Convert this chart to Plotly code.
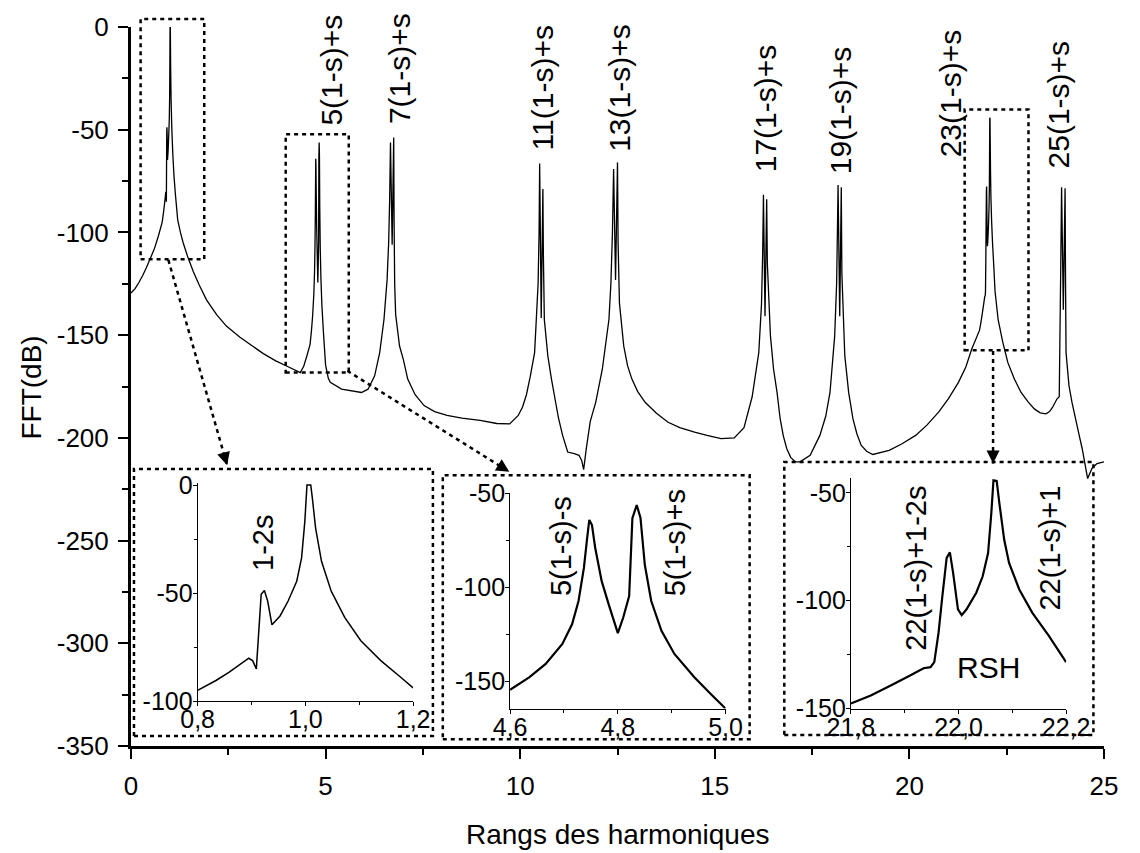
import plotly.graph_objects as go

# ---------------- spectrum data (harmonic rank, dB) ----------------
# low-frequency tail before the fundamental
seg_a_x = [0.00, 0.10, 0.20, 0.30, 0.40, 0.50, 0.60, 0.70]
seg_a_y = [-129.5, -127.5, -124.5, -121.0, -117.0, -112.5, -108.0, -102.0]

# fundamental with the 1-2s sideband
fund_x = [0.800, 0.834, 0.858, 0.895, 0.902, 0.909, 0.918, 0.924, 0.930, 0.938, 0.953, 0.968, 0.984,
          0.993, 0.999, 1.003, 1.010, 1.013, 1.019, 1.030, 1.048, 1.073, 1.103, 1.140, 1.177, 1.200]
fund_y = [-95.1, -90.5, -86.7, -80.2, -81.3, -85.1, -50.6, -48.8, -53.7, -64.7, -60.6, -53.7, -44.5,
          -33.7, -16.9, 0.0, 0.0, -6.1, -19.9, -35.3, -49.1, -61.3, -72.1, -81.3, -89.0, -93.9]

seg_b_x = [1.27, 1.34, 1.45, 1.60, 1.75, 1.94, 2.20, 2.45, 2.80, 3.12, 3.40, 3.72, 4.05, 4.35, 4.44, 4.52]
seg_b_y = [-100.0, -105.0, -111.5, -119.0, -125.5, -132.8, -140.0, -145.6, -151.0, -155.3, -159.0,
           -162.5, -165.5, -168.2, -165.0, -160.0]

# 5th harmonic pair 5(1-s)-s / 5(1-s)+s
h5_x = [4.600, 4.636, 4.666, 4.697, 4.715, 4.727, 4.737, 4.743, 4.747, 4.752, 4.758, 4.770, 4.783,
        4.800, 4.810, 4.821, 4.827, 4.835, 4.842, 4.850, 4.862, 4.881, 4.905, 4.942, 4.972, 5.000]
h5_y = [-154.6, -147.9, -140.8, -130.2, -119.7, -107.3, -89.7, -73.8, -64.1, -66.8, -79.1, -96.7, -109.1,
        -124.4, -116.1, -104.7, -63.2, -56.2, -62.9, -87.9, -107.3, -123.2, -135.5, -147.9, -156.7, -164.6]

seg_c_x = [5.07, 5.12, 5.41, 5.92, 6.09, 6.26, 6.39, 6.50, 6.58, 6.62, 6.645, 6.667, 6.71, 6.75, 6.76,
           6.775, 6.80, 6.90, 7.00, 7.11, 7.30, 7.53, 7.80, 8.12, 8.50, 8.97, 9.40, 9.73, 9.95, 10.06,
           10.16, 10.26, 10.37, 10.42, 10.46, 10.485, 10.50, 10.54, 10.583, 10.595, 10.62, 10.71, 10.80,
           10.88, 10.98, 11.09, 11.22, 11.39, 11.51, 11.58, 11.63, 11.70, 11.80, 11.94, 12.11, 12.28,
           12.33, 12.37, 12.40, 12.45, 12.50, 12.515, 12.55, 12.66, 12.76, 12.87, 13.02, 13.21, 13.50,
           13.80, 14.10, 14.48, 14.80, 15.16, 15.50, 15.75, 15.96, 16.13, 16.20, 16.23, 16.25, 16.29,
           16.333, 16.35, 16.43, 16.51, 16.60, 16.68, 16.76, 16.85, 16.95, 17.07, 17.19, 17.45, 17.70,
           17.85, 17.96, 18.08, 18.13, 18.15, 18.167, 18.21, 18.25, 18.265, 18.34, 18.44, 18.55, 18.65,
           18.76, 18.90, 19.06, 19.48, 19.80, 20.16, 20.45, 20.75, 21.00, 21.26, 21.45, 21.60]
seg_c_y = [-171.0, -173.0, -176.3, -177.9, -176.3, -169.8, -158.5, -142.4, -123.1, -105.0, -85.0, -56.2,
           -106.0, -53.8, -95.0, -125.0, -140.0, -155.3, -162.0, -171.4, -179.0, -184.3, -187.2, -189.1,
           -190.4, -191.5, -193.0, -193.2, -189.1, -185.0, -179.0, -170.0, -158.5, -140.0, -125.0, -100.0,
           -66.4, -141.6, -78.8, -110.0, -142.4, -160.1, -171.0, -179.5, -190.0, -198.8, -206.9, -207.7,
           -208.5, -211.0, -215.5, -205.0, -192.0, -182.7, -166.6, -142.4, -125.0, -100.0, -69.1, -123.1,
           -65.9, -105.0, -134.4, -155.3, -165.0, -171.4, -177.5, -182.7, -188.0, -192.4, -195.0, -197.2,
           -198.8, -200.4, -200.0, -195.0, -180.0, -158.5, -135.0, -110.0, -81.7, -140.8, -83.9, -115.0,
           -150.5, -166.6, -178.0, -190.8, -199.0, -205.3, -209.5, -211.7, -211.7, -208.5, -198.8, -189.5,
           -177.9, -150.5, -125.0, -100.0, -76.9, -140.8, -78.0, -120.0, -160.0, -178.0, -190.8, -198.0,
           -203.6, -206.5, -208.1, -206.1, -203.0, -198.8, -193.8, -187.5, -181.0, -173.0, -165.5, -156.9]

# rotor slot harmonic region 22(1-s)+1-2s / 22(1-s)+1
rsh_x = [21.800, 21.837, 21.874, 21.910, 21.935, 21.948, 21.955, 21.963, 21.970, 21.978, 21.984, 21.990,
         21.999, 22.006, 22.015, 22.033, 22.045, 22.055, 22.061, 22.065, 22.071, 22.076, 22.085, 22.094,
         22.113, 22.137, 22.168, 22.200]
rsh_y = [-147.7, -143.9, -139.3, -134.7, -131.3, -130.8, -128.5, -114.7, -97.9, -80.2, -77.6, -87.1,
         -104.0, -106.7, -104.0, -96.3, -88.7, -77.9, -59.5, -44.2, -44.5, -54.9, -71.8, -82.5,
         -94.8, -105.5, -116.3, -128.5]

seg_d_x = [22.28, 22.40, 22.53, 22.70, 22.87, 23.05, 23.21, 23.36, 23.51, 23.60, 23.68, 23.79, 23.85,
           23.865, 23.89, 23.91, 23.955, 24.0, 24.012, 24.025, 24.10, 24.18, 24.27, 24.36, 24.44, 24.58,
           24.69, 24.82, 25.0]
seg_d_y = [-142.4, -153.5, -163.4, -171.5, -177.9, -182.5, -185.9, -187.8, -188.3, -187.2, -185.1,
           -181.1, -180.0, -155.0, -115.0, -78.0, -137.6, -78.5, -125.0, -158.5, -174.6, -183.0, -190.8,
           -198.5, -205.3, -219.8, -214.9, -212.5, -211.7]

spec_x = seg_a_x + fund_x + seg_b_x + h5_x + seg_c_x + rsh_x + seg_d_x
spec_y = seg_a_y + fund_y + seg_b_y + h5_y + seg_c_y + rsh_y + seg_d_y

# peak labels on the main spectrum: text, x, y of the label foot
peak_labels = ["5(1-s)+s", "7(1-s)+s", "11(1-s)+s", "13(1-s)+s",
               "17(1-s)+s", "19(1-s)+s", "23(1-s)+s", "25(1-s)+s"]
peak_label_x = [5.16, 6.90, 10.58, 12.53, 16.30, 18.25, 21.05, 23.84]
peak_label_y = [-48.8, -48.2, -60.9, -61.9, -71.5, -72.5, -64.3, -69.9]

# axis ticks
main_xticks = [0, 5, 10, 15, 20, 25]
main_xminor = [2.5, 7.5, 12.5, 17.5, 22.5]
main_yticks = [0, -50, -100, -150, -200, -250, -300, -350]
main_yminor = [-25, -75, -125, -175, -225, -275, -325]
main_yticktext = ["0", "-50", "-100", "-150", "-200", "-250", "-300", "-350"]

in1_xticks = [0.8, 1.0, 1.2]
in1_xticktext = ["0,8", "1,0", "1,2"]
in1_yticks = [0, -50, -100]
in1_yticktext = ["0", "-50", "-100"]
in2_xticks = [4.6, 4.8, 5.0]
in2_xticktext = ["4,6", "4,8", "5,0"]
in2_yticks = [-50, -100, -150]
in2_yticktext = ["-50", "-100", "-150"]
in3_xticks = [21.8, 22.0, 22.2]
in3_xticktext = ["21,8", "22,0", "22,2"]
in3_yticks = [-50, -100, -150]
in3_yticktext = ["-50", "-100", "-150"]

# ---------------- layout geometry ----------------
W, H = 1140, 853
ML, MR, MT, MB = 131, 26, 22, 107
PL, PR, PT, PB = ML, W - MR, MT, H - MB
XR = [0, 25]
YR = [-350, 0]

FONT = "Liberation Sans, Arial, sans-serif"


def paper(x, y):
    return ((x - XR[0]) / (XR[1] - XR[0]), (y - YR[0]) / (YR[1] - YR[0]))


def pix(x, y):
    fx, fy = paper(x, y)
    return PL + fx * (PR - PL), PB - fy * (PB - PT)


fig = go.Figure()

fig.add_trace(go.Scatter(x=spec_x, y=spec_y, mode="lines",
                         line=dict(color="black", width=1.3, simplify=False),
                         xaxis="x", yaxis="y", showlegend=False, hoverinfo="skip"))
fig.add_trace(go.Scatter(x=fund_x, y=fund_y, mode="lines",
                         line=dict(color="black", width=1.5, simplify=False),
                         xaxis="x2", yaxis="y2", showlegend=False, hoverinfo="skip"))
fig.add_trace(go.Scatter(x=h5_x, y=h5_y, mode="lines",
                         line=dict(color="black", width=2.2, simplify=False),
                         xaxis="x3", yaxis="y3", showlegend=False, hoverinfo="skip"))
fig.add_trace(go.Scatter(x=rsh_x, y=rsh_y, mode="lines",
                         line=dict(color="black", width=2.2, simplify=False),
                         xaxis="x4", yaxis="y4", showlegend=False, hoverinfo="skip"))

main_common = dict(showline=True, linewidth=3, linecolor="#000000", ticks="outside", ticklen=10,
                   tickwidth=2, tickcolor="#000000", showgrid=False, zeroline=False,
                   tickfont=dict(family=FONT, size=26, color="black"))
fig.update_layout(
    xaxis=dict(range=XR, domain=[0, 1], tickvals=main_xticks, ticktext=[str(v) for v in main_xticks],
               anchor="y", ticklabelstandoff=5,
               minor=dict(tickvals=main_xminor, ticks="outside", ticklen=6, tickwidth=2, tickcolor="#000000"),
               **main_common),
    yaxis=dict(range=YR, domain=[0, 1], tickvals=main_yticks, ticktext=main_yticktext,
               anchor="x", ticklabelstandoff=4,
               minor=dict(tickvals=main_yminor, ticks="outside", ticklen=6, tickwidth=2, tickcolor="#000000"),
               **main_common),
)


def inset_axes(xdom, ydom, xr, yr, xt, xtt, yt, ytt, xminor, yminor):
    common = dict(showline=True, linewidth=1, linecolor="black", showgrid=False, zeroline=False,
                  ticks="outside", ticklen=4, tickwidth=1, tickcolor="black",
                  tickfont=dict(family=FONT, size=25, color="black"))
    xa = dict(domain=xdom, range=xr, tickvals=xt, ticktext=xtt, ticklabelstandoff=-8,
              minor=dict(tickvals=xminor, ticks="outside", ticklen=3, tickwidth=1, tickcolor="black"),
              **common)
    ya = dict(domain=ydom, range=yr, tickvals=yt, ticktext=ytt, ticklabelstandoff=-5,
              minor=dict(tickvals=yminor, ticks="outside", ticklen=3, tickwidth=1, tickcolor="black"),
              **common)
    return xa, ya


def dom_x(p0, p1):
    return [(p0 - PL) / (PR - PL), (p1 - PL) / (PR - PL)]


def dom_y(p_bottom, p_top):
    return [(PB - p_bottom) / (PB - PT), (PB - p_top) / (PB - PT)]


x2, y2 = inset_axes(dom_x(198.3, 416.0), dom_y(700.7, 481.1), [0.8, 1.2], [-100, 1],
                    in1_xticks, in1_xticktext, in1_yticks, in1_yticktext, [0.9, 1.1], [-25, -75])
x3, y3 = inset_axes(dom_x(514.0, 731.7), dom_y(708.3, 491.7), [4.6, 5.0], [-164.6, -50],
                    in2_xticks, in2_xticktext, in2_yticks, in2_yticktext, [4.7, 4.9], [-75, -125])
x4, y4 = inset_axes(dom_x(858.3, 1075.7), dom_y(708.3, 475.8), [21.8, 22.2], [-150, -43],
                    in3_xticks, in3_xticktext, in3_yticks, in3_yticktext, [21.9, 22.1], [-75, -125])
fig.update_layout(xaxis2=dict(anchor="y2", **x2), yaxis2=dict(anchor="x2", **y2),
                  xaxis3=dict(anchor="y3", **x3), yaxis3=dict(anchor="x3", **y3),
                  xaxis4=dict(anchor="y4", **x4), yaxis4=dict(anchor="x4", **y4))

shapes = []
DASH = "4px,4px"
box_line = dict(color="black", width=2.5, dash=DASH)

# zoom windows on the main spectrum (data coordinates)
zoom_boxes = [(0.247, 1.882, -113.1, 3.9), (3.975, 5.595, -168.2, -52.2), (21.42, 23.06, -157.4, -40.1)]
for x0, x1, y0, y1 in zoom_boxes:
    a = paper(x0, y0)
    b = paper(x1, y1)
    shapes.append(dict(type="rect", xref="paper", yref="paper", x0=a[0], y0=a[1], x1=b[0], y1=b[1],
                       line=box_line, fillcolor="rgba(0,0,0,0)"))

# frames around the insets (pixel positions)
inset_frames = [(134, 436, 467, 736), (446, 756, 473.3, 739.3), (791, 1103.3, 460, 735)]
for l, r, t, b in inset_frames:
    shapes.append(dict(type="rect", xref="paper", yref="paper",
                       x0=(l - PL) / (PR - PL), x1=(r - PL) / (PR - PL),
                       y0=(PB - b) / (PB - PT), y1=(PB - t) / (PB - PT),
                       line=box_line, fillcolor="rgba(0,0,0,0)"))

# dotted arrows from zoom windows to insets (data coordinates)
arrows = [((0.96, -113.4), (2.47, -213.3)), ((5.56, -167.4), (9.72, -216.5)), ((22.15, -157.7), (22.15, -212.5))]
annotations = []
for (sx, sy), (ex, ey) in arrows:
    a = paper(sx, sy)
    b = paper(ex, ey)
    shapes.append(dict(type="line", xref="paper", yref="paper", x0=a[0], y0=a[1], x1=b[0], y1=b[1],
                       line=dict(color="black", width=2.5, dash=DASH)))
    ps = pix(sx, sy)
    pe = pix(ex, ey)
    dx, dy = pe[0] - ps[0], pe[1] - ps[1]
    n = (dx * dx + dy * dy) ** 0.5
    annotations.append(dict(xref="paper", yref="paper", x=b[0], y=b[1], text="", showarrow=True,
                            ax=-dx / n * 14, ay=-dy / n * 14, arrowhead=2, arrowsize=1.3,
                            arrowwidth=2, arrowcolor="black"))

for t, x, y in zip(peak_labels, peak_label_x, peak_label_y):
    annotations.append(dict(xref="x", yref="y", x=x, y=y, text=t, textangle=-90, showarrow=False,
                            xanchor="center", yanchor="bottom",
                            font=dict(family=FONT, size=30, color="black")))

inset_text = [
    ("x2", "y2", 0.921, -40.8, "1-2s"),
    ("x3", "y3", 4.695, -105.6, "5(1-s)-s"),
    ("x3", "y3", 4.906, -105.6, "5(1-s)+s"),
    ("x4", "y4", 21.921, -123.9, "22(1-s)+1-2s"),
    ("x4", "y4", 22.171, -105.5, "22(1-s)+1"),
]
for xr_, yr_, x, y, t in inset_text:
    annotations.append(dict(xref=xr_, yref=yr_, x=x, y=y, text=t, textangle=-90, showarrow=False,
                            xanchor="center", yanchor="bottom",
                            font=dict(family=FONT, size=29, color="black")))
annotations.append(dict(xref="x4", yref="y4", x=22.055, y=-131.2, text="RSH", showarrow=False,
                        xanchor="center", yanchor="middle",
                        font=dict(family=FONT, size=30, color="black")))

# axis titles
annotations.append(dict(xref="paper", yref="paper", x=0.5, y=(PB - 835) / (PB - PT),
                        text="Rangs des harmoniques", showarrow=False, xanchor="center", yanchor="middle",
                        font=dict(family=FONT, size=28, color="black")))
annotations.append(dict(xref="paper", yref="paper", x=(30 - PL) / (PR - PL), y=(PB - 385) / (PB - PT),
                        text="FFT(dB)", textangle=-90, showarrow=False, xanchor="center", yanchor="middle",
                        font=dict(family=FONT, size=28, color="black")))

fig.update_layout(
    width=W, height=H, margin=dict(l=ML, r=MR, t=MT, b=MB, pad=0),
    paper_bgcolor="white", plot_bgcolor="white",
    shapes=shapes, annotations=annotations, showlegend=False,
    font=dict(family=FONT, color="black"),
)

fig.write_html("out.html")
